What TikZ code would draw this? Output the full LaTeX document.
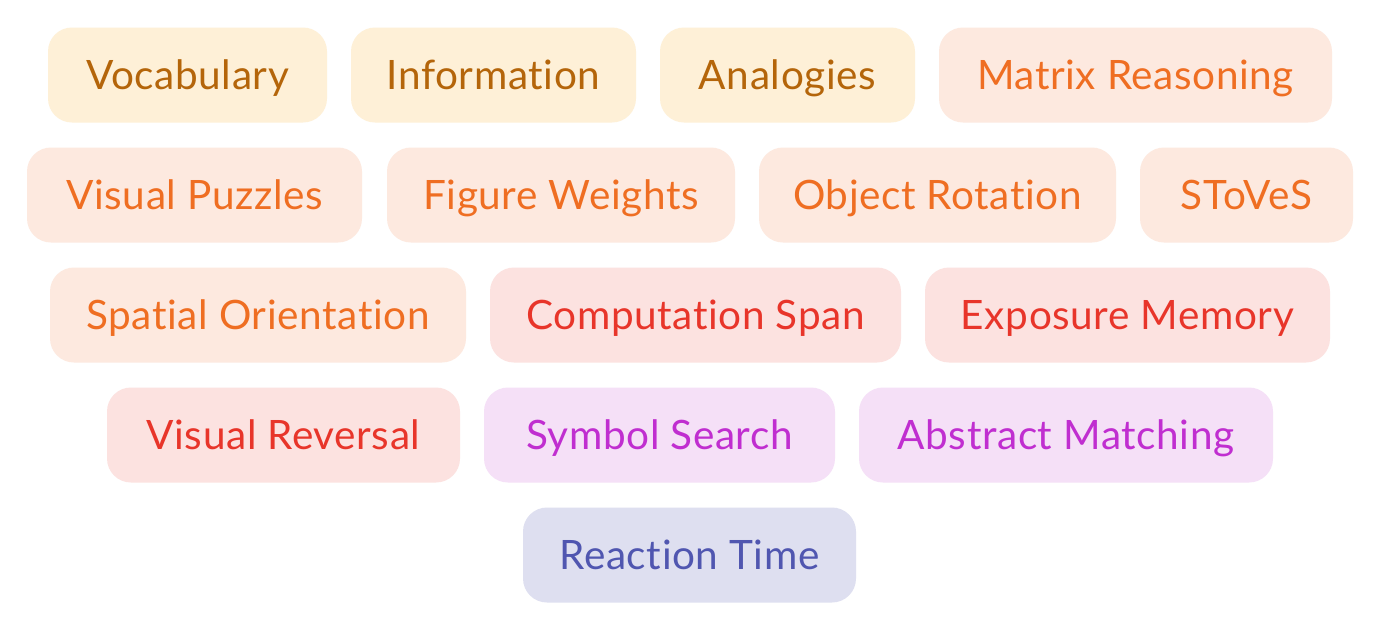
\documentclass[tikz,border=0pt]{standalone}
\usepackage{fontspec}
\setmainfont{Lato}[Ligatures={NoCommon}, LetterSpace=1.5]
\definecolor{amberF}{HTML}{FEF0D7}
\definecolor{amberT}{HTML}{B4650A}
\definecolor{orangeF}{HTML}{FDE9DF}
\definecolor{orangeT}{HTML}{EF6E22}
\definecolor{redF}{HTML}{FCE2E0}
\definecolor{redT}{HTML}{E8352A}
\definecolor{fuchF}{HTML}{F5E0F7}
\definecolor{fuchT}{HTML}{C02ED0}
\definecolor{indF}{HTML}{DEDFF0}
\definecolor{indT}{HTML}{5056B0}
\tikzset{
  pill/.style={rounded corners=24pt, minimum height=95pt, inner sep=0pt,
    text height=29pt, text depth=0pt,
    font=\fontsize{40.5}{44}\selectfont},
  amber/.style={pill, fill=amberF, text=amberT},
  orange/.style={pill, fill=orangeF, text=orangeT},
  red/.style={pill, fill=redF, text=redT},
  fuch/.style={pill, fill=fuchF, text=fuchT},
  ind/.style={pill, fill=indF, text=indT},
}
\begin{document}
\begin{tikzpicture}[x=1pt,y=-1pt]
\useasboundingbox (0,0) rectangle (1380,625);
\fill[white] (0,0) rectangle (1380,625);
% row 1
\node[amber, minimum width=279pt] (voc) at (187.5,75) {Vocabulary};
\node[amber, minimum width=285pt] (inf) at (493.5,75) {Information};
\node[amber, minimum width=255pt] (ana) at (787.5,75) {Analogies};
\node[orange, minimum width=393pt] (mat) at (1135.5,75) {Matrix Reasoning};
% row 2
\node[orange, minimum width=335pt] (vpz) at (194.5,195) {Visual Puzzles};
\node[orange, minimum width=348pt] (fig) at (561,195) {Figure Weights};
\node[orange, minimum width=357pt] (obj) at (937.5,195) {Object Rotation};
\node[orange, minimum width=213pt] (sto) at (1246.5,195) {SToVeS};
% row 3
\node[orange, minimum width=416pt] (spa) at (258,315) {Spatial Orientation};
\node[red, minimum width=411pt] (com) at (695.5,315) {Computation Span};
\node[red, minimum width=405pt] (exp) at (1127.5,315) {Exposure Memory};
% row 4
\node[red, minimum width=353pt] (vre) at (283.5,435) {Visual Reversal};
\node[fuch, minimum width=351pt] (sym) at (659.5,435) {Symbol Search};
\node[fuch, minimum width=414pt] (abs) at (1066,435) {Abstract Matching};
% row 5
\node[ind, minimum width=333pt] (rea) at (689.5,555) {Reaction Time};
\end{tikzpicture}
\end{document}
